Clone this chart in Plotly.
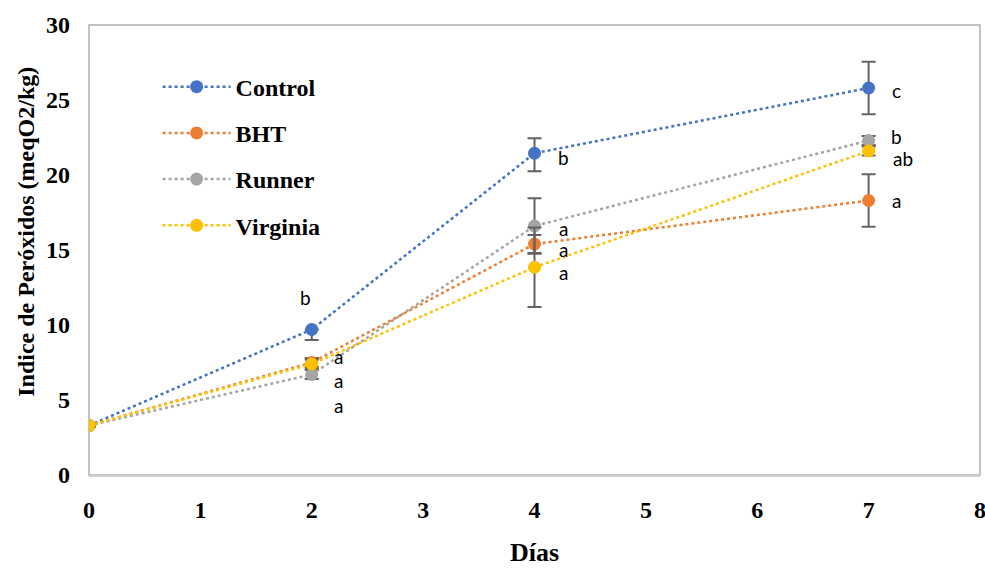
import plotly.graph_objects as go

days = [0, 2, 4, 7]
series_names = ["Control", "BHT", "Runner", "Virginia"]
colors = ["#4472C4", "#ED7D31", "#A5A5A5", "#FFC000"]
values = {
    "Control": [3.3, 9.7, 21.45, 25.8],
    "BHT": [3.3, 7.5, 15.4, 18.3],
    "Runner": [3.3, 6.7, 16.6, 22.3],
    "Virginia": [3.3, 7.4, 13.85, 21.6],
}
err_plus = {
    "Control": [0.1, 0.0, 1.0, 1.75],
    "BHT": [0.1, 0.3, 0.6, 1.75],
    "Runner": [0.1, 0.3, 1.85, 0.3],
    "Virginia": [0.1, 0.3, 2.65, 0.3],
}
err_minus = {
    "Control": [0.1, 0.7, 1.2, 1.75],
    "BHT": [0.1, 0.3, 0.6, 1.75],
    "Runner": [0.1, 0.3, 1.85, 0.3],
    "Virginia": [0.1, 0.3, 2.65, 0.3],
}
# significance letters: (day position, y position, text)
letters_x = [1.94, 2.24, 2.24, 2.24, 4.26, 4.26, 4.26, 4.26, 7.25, 7.25, 7.31, 7.25]
letters_y = [11.85, 7.9, 6.3, 4.65, 21.2, 16.45, 15.05, 13.5, 25.65, 22.6, 21.1, 18.3]
letters_t = ["b", "a", "a", "a", "b", "a", "a", "a", "c", "b", "ab", "a"]

x_ticks = [0, 1, 2, 3, 4, 5, 6, 7, 8]
y_ticks = [0, 5, 10, 15, 20, 25, 30]

serif = "Liberation Serif, Times New Roman, serif"

fig = go.Figure()
for i, name in enumerate(series_names):
    fig.add_trace(go.Scatter(
        x=days, y=values[name], name=name, mode="lines+markers",
        legendgroup=name,
        line=dict(color=colors[i], width=2.5, dash="dot"),
        marker=dict(color=colors[i], size=13),
        error_y=dict(type="data", symmetric=False, array=err_plus[name],
                     arrayminus=err_minus[name], color="#636363",
                     thickness=2, width=7),
    ))

for xx, yy, tt in zip(letters_x, letters_y, letters_t):
    fig.add_annotation(x=xx, y=yy, text=tt, showarrow=False,
                       xanchor="center", yanchor="middle",
                       font=dict(family="Lato, Open Sans, sans-serif", size=19, color="#000"))

fig.add_annotation(x=-0.071, xref="paper", y=0.54, yref="paper",
                   text="Indice de Peróxidos (meqO2/kg)", textangle=-90,
                   showarrow=False, xanchor="center", yanchor="middle",
                   font=dict(family=serif, size=24, color="#000", weight="bold"))
fig.add_annotation(x=0.5, xref="paper", y=-0.173, yref="paper",
                   text="Días", showarrow=False, xanchor="center", yanchor="middle",
                   font=dict(family=serif, size=26, color="#000", weight="bold"))

fig.update_layout(
    width=985, height=569,
    margin=dict(l=89, r=5, t=25, b=94, autoexpand=False),
    paper_bgcolor="white", plot_bgcolor="white",
    showlegend=True,
    legend=dict(x=0.077, y=0.912, xanchor="left", yanchor="top",
                font=dict(family=serif, size=24, color="#000", weight="bold"),
                itemwidth=68, tracegroupgap=12, bgcolor="rgba(0,0,0,0)"),
    xaxis=dict(range=[0, 8], tickvals=x_ticks, showgrid=False, zeroline=False,
               showline=True, linecolor="#D0D0D0", linewidth=2, mirror=False,
               automargin=False,
               ticks="", ticklabelstandoff=12, ticklabeloverflow="allow",
               tickfont=dict(family=serif, size=24, color="#000", weight="bold")),
    yaxis=dict(range=[0, 30], tickvals=y_ticks, showgrid=False, zeroline=False,
               showline=False, ticks="", ticklabelstandoff=18, automargin=False,
               tickfont=dict(family=serif, size=24, color="#000", weight="bold")),
)
fig.add_shape(type="rect", xref="paper", yref="paper", x0=0, y0=0, x1=1, y1=1,
              line=dict(color="#B0B0B0", width=1.5), layer="below")
fig.write_html("out.html")
